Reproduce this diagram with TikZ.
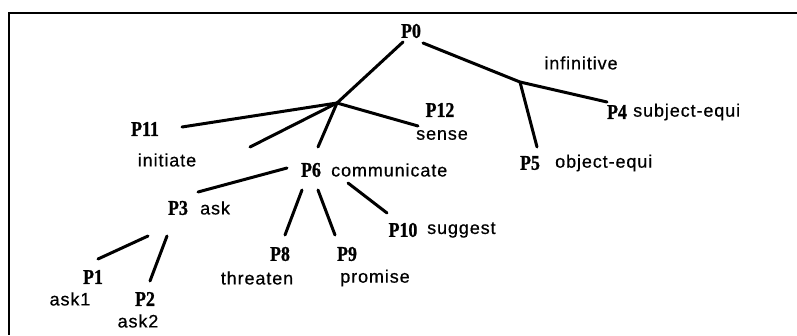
\documentclass[tikz,border=0pt]{standalone}
\usepackage{fontspec}
\setmainfont{Liberation Sans}
\newfontfamily\plabfont[FakeStretch=0.85,FakeBold=1]{Liberation Serif Bold}
\newfontfamily\wordfont[LetterSpace=5,FakeBold=0.6]{Liberation Sans}
\begin{document}
\begin{tikzpicture}[x=1pt,y=-1pt,
  plab/.style={inner sep=0pt,font=\plabfont\fontsize{21}{21}\selectfont},
  word/.style={inner sep=0pt,font=\wordfont\fontsize{18}{18}\selectfont},
  edge/.style={line width=3pt,line cap=round},
  frame/.style={line width=2.2pt}]
\useasboundingbox (0,0) rectangle (797,335);
% frame
\coordinate (fTL) at (9,13);
\coordinate (fTR) at (797,13);
\coordinate (fBL) at (9,335);
\draw[frame] (fTR) -- (fTL) -- (fBL);
% labels
\node[plab] (P0) at (411,31) {P0};
\node[plab] (P11) at (145,129) {P11};
\node[word] (initiate) at (167,160) {initiate};
\node[plab] (P12) at (440,110) {P12};
\node[word] (sense) at (442,135) {sense};
\node[plab] (P6) at (311,170) {P6};
\node[word,anchor=west] (communicate) at (331,170) {communicate};
\node[word] (infinitive) at (581,63) {infinitive};
\node[plab] (P4) at (617,112) {P4};
\node[word,anchor=west] (subj) at (633,112) {subject-equi};
\node[plab] (P5) at (530,163) {P5};
\node[word,anchor=west] (obj) at (555,163) {object-equi};
\node[plab] (P3) at (178,208) {P3};
\node[word,anchor=west] (ask) at (200,208) {ask};
\node[plab] (P1) at (93,277) {P1};
\node[word] (ask1) at (70,299) {ask1};
\node[plab] (P2) at (145,299) {P2};
\node[word] (ask2) at (138,321) {ask2};
\node[plab] (P8) at (280,254) {P8};
\node[word] (threaten) at (257,278) {threaten};
\node[plab] (P9) at (347,254) {P9};
\node[word] (promise) at (375,278) {promise};
\node[plab] (P10) at (403,230) {P10};
\node[word,anchor=west] (suggest) at (427,230) {suggest};
% junctions and line ends
\coordinate (J1) at (337,103);
\coordinate (J2) at (520,82);
\coordinate (P0l) at (403,42);
\coordinate (P0r) at (423,43);
\coordinate (P4e) at (607,102);
\coordinate (P5e) at (537,147);
\coordinate (P11e) at (182,127);
\coordinate (dang) at (250,147);
\coordinate (P6t) at (318,147);
\coordinate (P12e) at (418,126);
\coordinate (P6a) at (287,168);
\coordinate (P3e) at (198,192);
\coordinate (P6b) at (302,190);
\coordinate (P8e) at (285,235);
\coordinate (P6c) at (318,190);
\coordinate (P9e) at (335,235);
\coordinate (P6d) at (348,183);
\coordinate (P10e) at (387,213);
\coordinate (P3a) at (148,236);
\coordinate (P1e) at (98,259);
\coordinate (P3b) at (167,236);
\coordinate (P2e) at (150,281);
% connectors
\draw[edge] (P0l) -- (J1);
\draw[edge] (P0r) -- (J2) -- (P4e);
\draw[edge] (J2) -- (P5e);
\draw[edge] (J1) -- (P11e);
\draw[edge] (J1) -- (dang);
\draw[edge] (J1) -- (P6t);
\draw[edge] (J1) -- (P12e);
\draw[edge] (P6a) -- (P3e);
\draw[edge] (P6b) -- (P8e);
\draw[edge] (P6c) -- (P9e);
\draw[edge] (P6d) -- (P10e);
\draw[edge] (P3a) -- (P1e);
\draw[edge] (P3b) -- (P2e);
\end{tikzpicture}
\end{document}
